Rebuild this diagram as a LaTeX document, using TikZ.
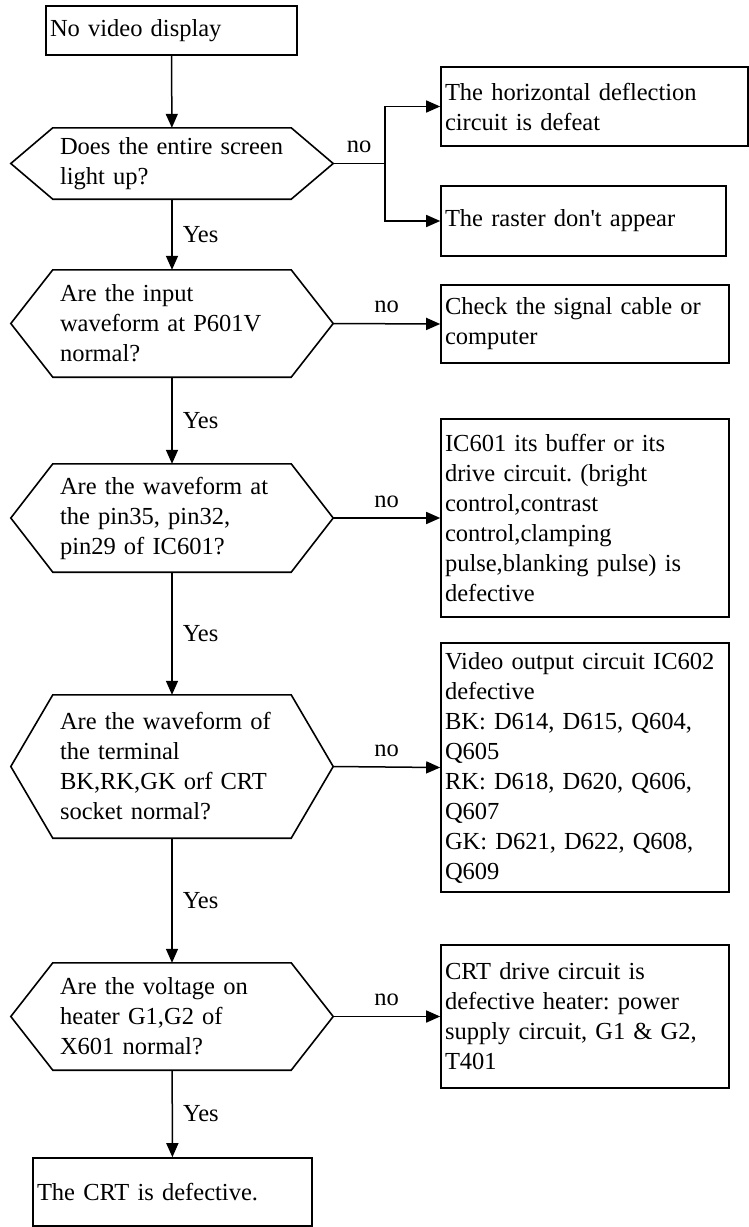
\documentclass[tikz,border=0pt]{standalone}
\usepackage{fontspec}
\setmainfont{Liberation Serif}
\usetikzlibrary{arrows.meta,positioning,calc}
\frenchspacing

\begin{document}
\begin{tikzpicture}[x=1pt,y=-1pt,font=\fontsize{24.5}{30}\selectfont]
\tikzset{
  stepbox/.style={draw,line width=1.6pt,inner xsep=4pt,inner ysep=0pt,align=left},
  decision/.style={inner xsep=49pt,inner ysep=0pt,text width=224pt,align=left},
  arr/.style={line width=1.5pt,-{Triangle[length=14pt,width=12pt]}},
  lbl/.style={inner sep=0pt}
}
\useasboundingbox (0,0) rectangle (749,1227);
% left column
\node[stepbox,text width=243pt,minimum height=49pt] (start) at (171.5,30.5) {No video display};
\node[decision,minimum height=71pt] (dA) at (172,163.5) {Does the entire screen\\light up?};
\node[decision,minimum height=107pt] (dB) at (172,323.5) {Are the input\\waveform at P601V\\normal?};
\node[decision,minimum height=108pt] (dC) at (172,518) {Are the waveform at\\the pin35, pin32,\\pin29 of IC601?};
\node[decision,minimum height=143pt] (dD) at (172,766.5) {Are the waveform of\\the terminal\\BK,RK,GK orf CRT\\socket normal?};
\node[decision,minimum height=107pt] (dE) at (172,1016.5) {Are the voltage on\\heater G1,G2 of\\X601 normal?};
\node[stepbox,text width=271pt,minimum height=68pt] (fin) at (172.5,1192) {The CRT is defective.};
% right column
\node[stepbox,text width=299pt,minimum height=79pt] (hBox) at (594.5,106.5) {The horizontal deflection\\circuit is defeat};
\node[stepbox,text width=277pt,minimum height=70pt] (rBox) at (583.5,221) {The raster don\textquotesingle t appear};
\node[stepbox,text width=280pt,minimum height=78pt] (chk) at (585,324) {Check the signal cable or\\computer};
\node[stepbox,text width=280pt,minimum height=198pt] (ic) at (585,518) {IC601 its buffer or its\\drive circuit. (bright\\control,contrast\\control,clamping\\pulse,blanking pulse) is\\defective};
\node[stepbox,text width=280pt,minimum height=249pt] (vid) at (585,767.5) {Video output circuit IC602\\defective\\BK: D614, D615, Q604,\\Q605\\RK: D618, D620, Q606,\\Q607\\GK: D621, D622, Q608,\\Q609};
\node[stepbox,text width=280pt,minimum height=143pt] (crt) at (585,1016.5) {CRT drive circuit is\\defective heater: power\\supply circuit, G1 \& G2,\\T401};
% hexagon outlines
\foreach \d in {dA,dB,dC,dD,dE}
  \draw[line width=1.6pt] (\d.west) -- ([xshift=42pt]\d.north west) -- ([xshift=-42pt]\d.north east)
    -- (\d.east) -- ([xshift=-42pt]\d.south east) -- ([xshift=42pt]\d.south west) -- cycle;
% connectors
\draw[arr] (start) -- (dA);
\draw[arr] (dA) -- node[lbl,right=10pt]{Yes} (dB);
\draw[arr] (dB) -- node[lbl,right=10pt]{Yes} (dC);
\draw[arr] (dC) -- node[lbl,right=10pt]{Yes} (dD);
\draw[arr] (dD) -- node[lbl,right=10pt]{Yes} (dE);
\draw[arr] (dE) -- node[lbl,right=10pt]{Yes} (fin);
\coordinate (jn) at (385,163.5);
\draw[line width=1.5pt] (dA.east) -- node[lbl,above=10pt]{no} (jn);
\draw[arr] (jn) |- (hBox.west);
\draw[arr] (jn) |- (rBox.west);
\draw[arr] (dB.east) -- node[lbl,above=10pt]{no} (chk.west);
\draw[arr] (dC.east) -- node[lbl,above=10pt]{no} (ic.west);
\draw[arr] (dD.east) -- node[lbl,above=10pt]{no} (vid.west);
\draw[arr] (dE.east) -- node[lbl,above=10pt]{no} (crt.west);
\end{tikzpicture}
\end{document}
